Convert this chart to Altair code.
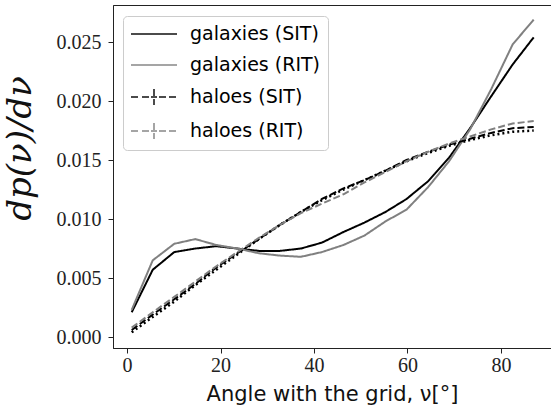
import altair as alt
import pandas as pd

# bin centres (angle with the grid, degrees)
angle = [1.0, 5.5, 10.1, 14.6, 19.1, 23.6, 28.2, 32.7, 37.2, 41.7,
         46.3, 50.8, 55.3, 59.8, 64.4, 68.9, 73.4, 77.9, 82.5, 87.0]

gal_sit = [0.0021, 0.0057, 0.0072, 0.0075, 0.0077, 0.0075, 0.0073, 0.0073, 0.0075, 0.0080,
           0.0089, 0.0097, 0.0106, 0.0117, 0.0132, 0.0152, 0.0177, 0.0204, 0.0231, 0.0254]
gal_rit = [0.0023, 0.0065, 0.0079, 0.0083, 0.0078, 0.0075, 0.0071, 0.0069, 0.0068, 0.0072,
           0.0078, 0.0086, 0.0098, 0.0108, 0.0127, 0.0149, 0.0176, 0.0210, 0.0248, 0.0269]
halo_sit = [0.0006, 0.0019, 0.0032, 0.0045, 0.0059, 0.0071, 0.0083, 0.0095, 0.0106, 0.0117,
            0.0126, 0.0133, 0.0141, 0.0150, 0.0157, 0.0163, 0.0168, 0.0173, 0.0177, 0.0178]
halo_rit = [0.0008, 0.0021, 0.0034, 0.0047, 0.0060, 0.0072, 0.0084, 0.0095, 0.0105, 0.0113,
            0.0121, 0.0131, 0.0140, 0.0149, 0.0157, 0.0164, 0.0170, 0.0176, 0.0181, 0.0183]
model = [0.0004, 0.0017, 0.0030, 0.0044, 0.0057, 0.0070, 0.0083, 0.0095, 0.0106, 0.0116,
         0.0125, 0.0133, 0.0141, 0.0149, 0.0156, 0.0162, 0.0167, 0.0171, 0.0174, 0.0175]

series_names = ["galaxies (SIT)", "galaxies (RIT)", "haloes (SIT)", "haloes (RIT)"]
series_vals = [gal_sit, gal_rit, halo_sit, halo_rit]

rows = []
for name, vals in zip(series_names, series_vals):
    for a, v in zip(angle, vals):
        rows.append({"angle": a, "value": v, "series": name})
df = pd.DataFrame(rows)
df_model = pd.DataFrame({"angle": angle, "value": model})

x_enc = alt.X("angle:Q", scale=alt.Scale(domain=[-3.0, 90.7], nice=False, zero=False),
              axis=alt.Axis(values=[0, 20, 40, 60, 80], title="Angle with the grid, ν[°]"))
y_enc = alt.Y("value:Q", scale=alt.Scale(domain=[-0.00093, 0.02814], nice=False, zero=False),
              axis=alt.Axis(values=[0, 0.005, 0.010, 0.015, 0.020, 0.025], format=".3f",
                            title="dp(ν)/dν", titleFont="DejaVu Serif", titleFontStyle="italic",
                            titleFontSize=34, titleFontWeight="normal", titleAngle=270,
                            titleX=-93, titleY=143, titleAlign="center", titleBaseline="middle"))

# legend symbol paths (unit = 10 px for symbolSize 400)
gal_path = "M-1,0H3.6"
halo_path = ("M-1,0H-0.2M0.1,0H0.8M1.0,0H1.6M1.8,0H2.5M2.8,0H3.6"
             "M1.3,-0.8V0.8")

legend = alt.Legend(
    title=None, orient="none", legendX=10, legendY=11,
    symbolSize=400, symbolStrokeWidth=2, symbolDash=[1, 0],
    labelFont="DejaVu Sans", labelFontSize=19, labelOffset=38,
    rowPadding=10, padding=7, fillColor="white",
    strokeColor="#cccccc", cornerRadius=4)

color_enc = alt.Color("series:N",
                      scale=alt.Scale(domain=series_names, range=["black", "gray", "black", "gray"]),
                      legend=legend)

lines = alt.Chart(df).mark_line(strokeWidth=2).encode(
    x=x_enc,
    y=y_enc,
    color=color_enc,
    strokeDash=alt.StrokeDash("series:N",
                              scale=alt.Scale(domain=series_names,
                                              range=[[1, 0], [1, 0], [7, 3], [7, 3]]),
                              legend=None),
    order=alt.Order("angle:Q"),
)

# empty point layer only supplies legend symbol shapes
legend_shapes = alt.Chart(df).mark_point(strokeWidth=2, filled=False).encode(
    x="angle:Q", y="value:Q",
    color=color_enc,
    shape=alt.Shape("series:N",
                    scale=alt.Scale(domain=series_names,
                                    range=[gal_path, gal_path, halo_path, halo_path]),
                    legend=legend),
).transform_filter(alt.datum.value < -1)

dotted = alt.Chart(df_model).mark_line(strokeWidth=2.5, color="black", strokeDash=[2, 3]).encode(
    x="angle:Q", y="value:Q", order=alt.Order("angle:Q"))

chart = alt.layer(dotted, lines, legend_shapes).properties(
    width=438, height=343,
    padding={"left": 113, "top": 5, "right": 0, "bottom": 67},
    autosize="none",
).configure_axis(
    grid=False, domainColor="#222", tickColor="#222", tickSize=5,
    labelFont="Liberation Serif", labelFontSize=20, labelColor="#222",
    titleFont="DejaVu Sans", titleFontSize=21, titleFontWeight="normal", titleColor="#111",
).configure_axisY(labelPadding=7).configure_axisX(labelPadding=2, titlePadding=8
).configure_view(stroke="#222", strokeWidth=1)

chart.save("out.html", embed_options={"renderer": "svg", "actions": False})
